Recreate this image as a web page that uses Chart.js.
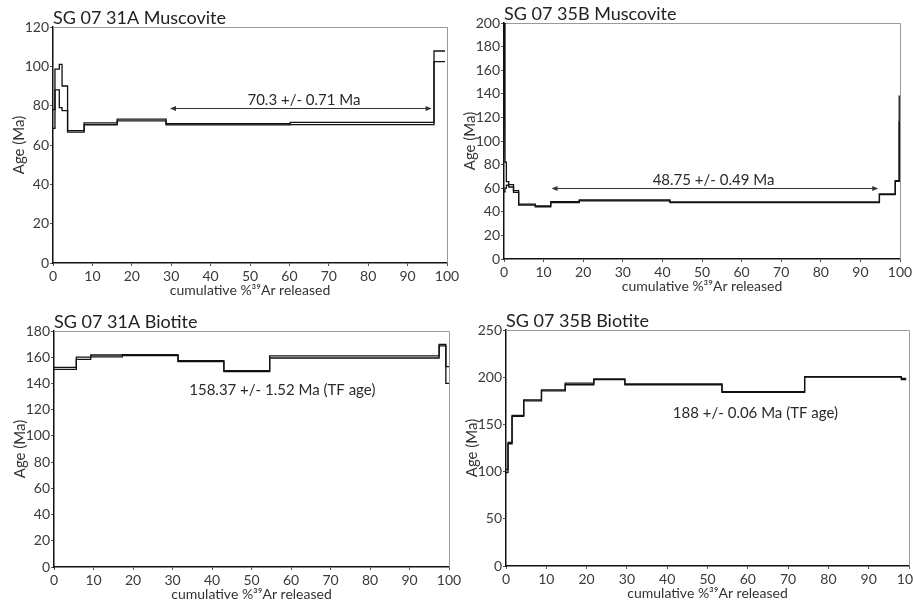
<!DOCTYPE html>
<html>
<head>
<meta charset="utf-8">
<script src="https://cdn.jsdelivr.net/npm/chart.js@4.4.0/dist/chart.umd.min.js"></script>
<style>
  html, body { margin: 0; padding: 0; background: #fff; width: 913px; height: 608px; overflow: hidden; position: relative; }
  canvas { position: absolute; }
</style>
</head>
<body>
<canvas id="mus31"></canvas>
<canvas id="mus35"></canvas>
<canvas id="bio31"></canvas>
<canvas id="bio35"></canvas>
<script>
// cumulative %39Ar step boundaries, and lower / upper age (Ma) of each step

// SG 07 31A Muscovite
const mus31Steps = [0, 0.5, 1.6, 2.3, 3.7, 7.9, 16.3, 28.7, 60.2, 96.7, 99.5];
const mus31Lo = [68.5, 88, 79, 77.5, 66.5, 70.3, 72.3, 70.2, 70.4, 102.4];
const mus31Hi = [78, 98.6, 101, 90, 67.3, 71.3, 73.2, 70.8, 71.5, 107.8];

// SG 07 35B Muscovite
const mus35Steps = [0, 0.25, 0.6, 1.2, 2.4, 3.7, 7.9, 11.8, 19, 41.9, 94.8, 98.8, 99.8, 100];
const mus35Lo = [57, 60, 62.5, 61, 56.5, 45.7, 44.3, 47.8, 49.3, 47.8, 54.5, 65.8, 116];
const mus35Hi = [205, 82, 65.5, 63, 58, 46.5, 45, 48.5, 50, 48.4, 55.2, 66.5, 138];

// SG 07 31A Biotite
const bio31Steps = [0, 5.65, 9.3, 17.3, 31.4, 43, 54.6, 97.5, 99.2, 100];
const bio31Lo = [150.8, 158.4, 160.3, 161.3, 156.7, 149.1, 159.4, 168.7, 140];
const bio31Hi = [152.3, 160, 161.7, 161.9, 157.3, 149.7, 161, 169.8, 152.8];

// SG 07 35B Biotite
const bio35Steps = [0, 0.5, 1.5, 4.4, 8.8, 14.7, 21.8, 29.5, 53.6, 74.1, 98.1, 99.3];
const bio35Lo = [99, 129.5, 158.5, 175, 185.5, 192, 197.5, 192, 184, 200, 197.5];
const bio35Hi = [102, 130.8, 159.5, 176, 186.5, 193.8, 198.3, 192.8, 184.8, 200.7, 198.8];

const xMax = 100;
const xStep = 10;

const FONT = 'Lato';

function stepPoints(bounds, ages) {
  const pts = [];
  for (let i = 0; i < ages.length; i++) {
    pts.push({ x: bounds[i], y: ages[i] });
    pts.push({ x: bounds[i + 1], y: ages[i] });
  }
  return pts;
}

function arrowHead(ctx, x, y, dir) {
  ctx.beginPath();
  ctx.moveTo(x, y);
  ctx.lineTo(x - dir * 6, y - 2.5);
  ctx.lineTo(x - dir * 6, y + 2.5);
  ctx.closePath();
  ctx.fill();
}

// frame (gray top/right), panel title, plateau arrow and age text
const panelDecor = {
  id: 'panelDecor',
  beforeDatasetsDraw(chart) {
    const { ctx, chartArea: a } = chart;
    ctx.save();
    ctx.strokeStyle = '#9a9a9a';
    ctx.lineWidth = 1;
    ctx.beginPath();
    ctx.moveTo(a.left, a.top + 0.5);
    ctx.lineTo(a.right + 0.5, a.top + 0.5);
    ctx.lineTo(a.right + 0.5, a.bottom);
    ctx.stroke();
    ctx.restore();
  },
  afterDraw(chart, args, opts) {
    const { ctx, chartArea: a, scales: { x, y } } = chart;
    ctx.save();
    ctx.fillStyle = '#222';
    ctx.font = '18px ' + FONT;
    ctx.textAlign = 'left';
    ctx.textBaseline = 'alphabetic';
    ctx.fillText(opts.title, a.left, a.top - 3);

    if (opts.plateau) {
      const [x1, x2, py] = opts.plateau;
      const px1 = x.getPixelForValue(x1), px2 = x.getPixelForValue(x2);
      const yy = Math.round(y.getPixelForValue(py)) + 0.5;
      ctx.strokeStyle = '#333';
      ctx.fillStyle = '#333';
      ctx.lineWidth = 1;
      ctx.beginPath();
      ctx.moveTo(px1 + 2, yy);
      ctx.lineTo(px2 - 2, yy);
      ctx.stroke();
      arrowHead(ctx, px1, yy, -1);
      arrowHead(ctx, px2, yy, 1);
    }

    ctx.fillStyle = '#2a2a2a';
    ctx.font = '15px ' + FONT;
    ctx.textAlign = 'center';
    ctx.textBaseline = 'middle';
    ctx.fillText(opts.label, x.getPixelForValue(opts.labelAt[0]), y.getPixelForValue(opts.labelAt[1]));
    ctx.restore();
  }
};

const Y_W = 43, X_H = 36;
const PAD_L = 60, PAD_T = 30, PAD_R = 20, PAD_B = 75;

function makePanel(id, box, steps, lo, hi, yMax, yStep, decor) {
  const canvas = document.getElementById(id);
  const w = box.r - box.l + PAD_L + PAD_R;
  const h = box.b - box.t + PAD_T + PAD_B;
  canvas.width = w;
  canvas.height = h;
  canvas.style.width = w + 'px';
  canvas.style.height = h + 'px';
  canvas.style.left = (box.l - PAD_L) + 'px';
  canvas.style.top = (box.t - PAD_T) + 'px';

  const lineStyle = { borderColor: '#111', borderWidth: 1.3, pointRadius: 0, fill: false, tension: 0 };

  return new Chart(canvas.getContext('2d'), {
    type: 'line',
    data: {
      datasets: [
        Object.assign({ data: stepPoints(steps, hi) }, lineStyle),
        Object.assign({ data: stepPoints(steps, lo) }, lineStyle)
      ]
    },
    options: {
      responsive: false,
      animation: false,
      layout: { padding: { left: PAD_L - Y_W, top: PAD_T, right: PAD_R, bottom: PAD_B - X_H } },
      plugins: {
        legend: { display: false },
        tooltip: { enabled: false },
        panelDecor: decor
      },
      scales: {
        x: {
          type: 'linear',
          min: 0,
          max: xMax,
          afterFit(scale) { scale.height = X_H; },
          border: { display: true, color: '#111', width: 1.5 },
          grid: { drawOnChartArea: false, drawTicks: true, tickLength: 3, color: '#555' },
          ticks: { stepSize: xStep, autoSkip: false, maxRotation: 0, padding: 2, color: '#3a3a3a', font: { family: FONT, size: 14 } },
          title: { display: true, text: 'cumulative %\u00b3\u2079Ar released', color: '#333', padding: 0, font: { family: FONT, size: 14 } }
        },
        y: {
          min: 0,
          max: yMax,
          afterFit(scale) { scale.width = Y_W; },
          border: { display: true, color: '#111', width: 1.5 },
          grid: { drawOnChartArea: false, drawTicks: true, tickLength: 3, color: '#555' },
          ticks: { stepSize: yStep, padding: 1, color: '#3a3a3a', font: { family: FONT, size: 14 } },
          title: { display: true, text: 'Age (Ma)', color: '#333', padding: 0, font: { family: FONT, size: 15 } }
        }
      }
    },
    plugins: [panelDecor]
  });
}

makePanel('mus31', { l: 53, t: 27, r: 447, b: 263 }, mus31Steps, mus31Lo, mus31Hi, 120, 20, {
  title: 'SG 07 31A Muscovite',
  label: '70.3 +/- 0.71 Ma',
  labelAt: [63.7, 83],
  plateau: [29.7, 96.1, 78.6]
});

makePanel('mus35', { l: 504, t: 23, r: 900, b: 259 }, mus35Steps, mus35Lo, mus35Hi, 200, 20, {
  title: 'SG 07 35B Muscovite',
  label: '48.75 +/- 0.49 Ma',
  labelAt: [52.9, 67],
  plateau: [12, 94.5, 59.8]
});

makePanel('bio31', { l: 54, t: 331, r: 449, b: 567 }, bio31Steps, bio31Lo, bio31Hi, 180, 20, {
  title: 'SG 07 31A Biotite',
  label: '158.37 +/- 1.52 Ma (TF age)',
  labelAt: [57.8, 134.5]
});

makePanel('bio35', { l: 506, t: 330, r: 909, b: 566 }, bio35Steps, bio35Lo, bio35Hi, 250, 50, {
  title: 'SG 07 35B Biotite',
  label: '188 +/- 0.06 Ma (TF age)',
  labelAt: [61.9, 161.6]
});
</script>
</body>
</html>
